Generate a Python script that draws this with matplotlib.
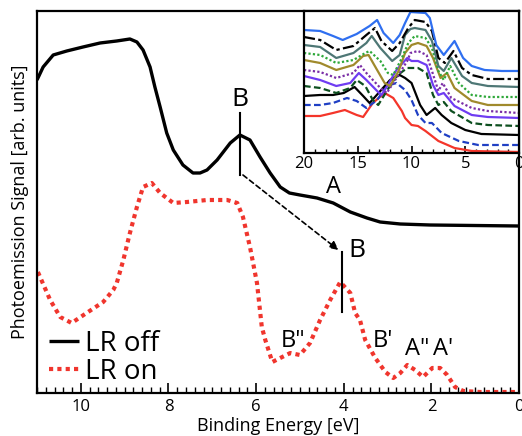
import matplotlib

matplotlib.use("Agg")
import matplotlib.pyplot as plt
from matplotlib.ticker import MultipleLocator

plt.rcParams["font.family"] = ["Open Sans", "DejaVu Sans"]

# main panel: binding energy (eV) vs signal (arb.)
lr_off_e = [11.0, 10.86, 10.63, 10.32, 9.95, 9.56, 9.18, 8.88, 8.72, 8.58, 8.42, 8.31, 8.19,
            8.04, 7.89, 7.67, 7.44, 7.28, 7.12, 6.89, 6.59, 6.37, 6.14, 5.91, 5.68, 5.45,
            5.24, 5.0, 4.61, 4.24, 3.85, 3.47, 3.17, 2.71, 2.03, 0.0]
lr_off_y = [313, 326, 338, 342, 346, 350, 352, 354, 351, 343, 326, 306, 286,
            260, 243, 228, 220, 220, 223, 233, 250, 258, 253, 236, 220, 206,
            200, 198, 195, 190, 181, 175, 171, 169, 168, 167]

lr_on_e = [10.98, 10.70, 10.47, 10.21, 9.87, 9.49, 9.26, 9.18, 9.03, 8.88, 8.72, 8.58, 8.38,
           8.19, 7.89, 7.58, 7.12, 6.66, 6.43, 6.30, 6.14, 5.98, 5.87, 5.79, 5.63, 5.45,
           5.22, 5.0, 4.77, 4.54, 4.31, 4.08, 3.85, 3.74, 3.63, 3.51, 3.28, 3.05, 2.87,
           2.71, 2.55, 2.37, 2.19, 1.98, 1.80, 1.64, 1.46, 1.27, 0.89, 0.0]
lr_on_y = [121, 93, 76, 70, 80, 91, 103, 110, 133, 160, 186, 206, 210,
           200, 190, 191, 193, 193, 190, 176, 146, 110, 66, 53, 31, 35,
           40, 38, 50, 73, 93, 111, 100, 80, 73, 53, 35, 21, 15,
           20, 28, 23, 16, 25, 25, 18, 6, 2, 1, 1]

# inset: 11 stacked spectra, bottom to top
inset = [
    ([20, 18.5, 17.3, 16.2, 15.1, 14.5, 13.6, 12.5, 11.7, 10.9, 10.6, 10.0, 9.4, 8.7, 7.5, 6.0, 4.4, 0],
     [37, 37, 40, 43, 38, 36, 50, 60, 55, 42, 35, 28, 27, 22, 12, 5, 2, 1],
     "#f4352a", "-"),
    ([20, 18.5, 17.3, 16.0, 15.1, 14.2, 13.2, 12.3, 11.4, 10.6, 10.0, 9.4, 8.7, 8.1, 7.2, 5.6, 3.8, 0],
     [48, 48, 50, 55, 52, 45, 53, 67, 70, 63, 53, 38, 30, 30, 20, 12, 8, 8],
     "#1f3fc4", (0, (3, 1.5))),
    ([20, 18.5, 17.3, 16.3, 15.3, 14.5, 13.9, 12.9, 12.0, 11.1, 10.6, 10.0, 9.2, 8.6, 7.8, 7.2, 6.3, 5.0, 3.5, 0],
     [57, 58, 58, 60, 66, 57, 50, 62, 73, 78, 75, 70, 48, 38, 45, 38, 30, 23, 19, 18],
     "black", "-"),
    ([20, 18.5, 17.0, 15.7, 15.1, 14.3, 13.6, 13.1, 12.3, 11.4, 10.4, 9.4, 8.6, 8.0, 7.5, 7.0, 6.3, 4.4, 2.9, 0],
     [67, 65, 60, 65, 73, 67, 53, 48, 62, 77, 85, 85, 80, 58, 48, 51, 42, 30, 28, 27],
     "#0d4f1f", (0, (3, 1.5))),
    ([20, 18.5, 17.0, 15.7, 14.9, 14.2, 13.2, 12.8, 12.2, 11.4, 10.4, 10.0, 9.4, 8.6, 8.0, 7.5, 7.0, 6.0, 4.4, 2.9, 0],
     [77, 73, 67, 70, 80, 73, 62, 58, 68, 83, 95, 92, 92, 88, 68, 58, 60, 47, 38, 36, 35],
     "#6f3cf2", "-"),
    ([20, 18.5, 17.0, 15.4, 14.8, 14.2, 12.9, 12.3, 11.4, 10.4, 10.1, 9.4, 8.6, 8.1, 7.5, 7.1, 6.3, 4.4, 2.9, 0],
     [83, 81, 75, 80, 88, 80, 65, 60, 75, 92, 100, 102, 98, 82, 62, 70, 55, 45, 42, 40],
     "#7a2ea6", (0, (1, 1))),
    ([20, 18.5, 17.0, 15.4, 14.5, 14.0, 13.2, 12.5, 12.0, 11.2, 10.6, 10.0, 9.4, 8.6, 8.0, 7.3, 6.7, 6.0, 4.4, 2.9, 0],
     [93, 90, 83, 88, 97, 98, 83, 70, 67, 82, 100, 108, 110, 107, 95, 75, 80, 65, 52, 48, 48],
     "#a08a2c", "-"),
    ([20, 18.5, 17.0, 15.4, 14.3, 13.9, 12.9, 12.2, 11.7, 10.9, 10.3, 9.7, 8.7, 8.1, 7.5, 7.0, 6.4, 5.6, 4.4, 2.9, 0],
     [100, 98, 90, 93, 100, 102, 92, 80, 78, 95, 110, 117, 115, 105, 82, 73, 87, 70, 58, 56, 56],
     "#2fa83a", (0, (1, 1))),
    ([20, 18.5, 17.0, 15.4, 14.2, 13.7, 12.9, 11.8, 11.1, 10.6, 10.1, 9.7, 8.7, 8.1, 7.5, 7.0, 6.3, 5.3, 4.4, 2.9, 0],
     [108, 106, 95, 100, 110, 117, 105, 92, 98, 118, 124, 125, 123, 112, 87, 82, 95, 77, 70, 67, 66],
     "#4e7775", "-"),
    ([20, 18.5, 17.0, 15.4, 14.2, 13.4, 12.8, 11.8, 11.1, 10.3, 9.7, 8.7, 8.1, 7.5, 6.9, 6.1, 5.3, 4.4, 2.9, 0],
     [116, 113, 103, 107, 118, 125, 112, 102, 110, 125, 133, 131, 122, 95, 90, 102, 85, 78, 74, 74],
     "black", (0, (5, 1.5, 1.5, 1.5))),
    ([20, 18.5, 17.3, 16.4, 15.1, 13.9, 13.2, 12.6, 11.7, 11.1, 10.6, 10.1, 8.7, 8.3, 7.7, 7.0, 6.0, 5.2, 4.4, 3.2, 1.6, 0],
     [123, 122, 117, 113, 119, 127, 133, 120, 110, 118, 130, 141, 140, 135, 108, 98, 112, 95, 87, 83, 82, 82],
     "#2f6ff0", "-"),
]

fig = plt.figure(figsize=(5.22, 4.36), dpi=100)
ax = fig.add_axes([0.0709, 0.0986, 0.9234, 0.8762])

ax.plot(lr_off_e, lr_off_y, color="black", lw=2.4, label="LR off", solid_capstyle="butt")
ax.plot(lr_on_e, lr_on_y, color="#f0352d", lw=3.0, ls=(0, (1, 1)), label="LR on")

ax.set_xlim(11, 0)
ax.set_ylim(0, 382)
ax.set_yticks([])
ax.xaxis.set_major_locator(MultipleLocator(2))
ax.xaxis.set_minor_locator(MultipleLocator(0.2))
ax.tick_params(axis="x", which="major", direction="in", length=7, width=1.2, labelsize=12, pad=4)
ax.tick_params(axis="x", which="minor", direction="in", length=4, width=1.0)
for sp in ax.spines.values():
    sp.set_linewidth(1.6)
ax.set_xlabel("Binding Energy [eV]", fontsize=13, labelpad=2)
ax.set_ylabel("Photoemission Signal [arb. units]", fontsize=13, labelpad=6)

# peak markers and shift arrow
ax.plot([6.37, 6.37], [218, 280], color="black", lw=1.5)
ax.plot([4.04, 4.04], [81, 141], color="black", lw=1.5)
ax.annotate("", xy=(4.12, 143), xytext=(6.3, 218),
            arrowprops=dict(arrowstyle="-|>,head_length=0.5,head_width=0.25", color="black",
                            lw=1.2, ls=(0, (3, 2)), shrinkA=0, shrinkB=0))
ax.text(6.37, 281, "B", fontsize=19, ha="center", va="bottom")
ax.text(3.9, 143, "B", fontsize=19, ha="left", va="center")
ax.text(4.24, 206, "A", fontsize=17, ha="center", va="center")
ax.text(5.16, 52, "B\"", fontsize=17, ha="center", va="center")
ax.text(3.1, 52, "B'", fontsize=17, ha="center", va="center")
ax.text(2.32, 44, "A\"", fontsize=17, ha="center", va="center")
ax.text(1.73, 44, "A'", fontsize=17, ha="center", va="center")

ax.legend(loc="lower left", bbox_to_anchor=(-0.01, -0.025), frameon=False, fontsize=20,
          handlelength=1.1, handletextpad=0.2, labelspacing=0.0, borderaxespad=0.2)

# inset
ins = fig.add_axes([0.5824, 0.6491, 0.4119, 0.3257])
for e, h, col, ls in inset:
    ins.plot(e, h, color=col, ls=ls, lw=1.6)
ins.set_xlim(20, 0)
ins.set_ylim(0, 142)
ins.set_yticks([])
ins.xaxis.set_major_locator(MultipleLocator(5))
ins.xaxis.set_minor_locator(MultipleLocator(1))
ins.tick_params(axis="x", which="major", direction="in", length=5, width=1.2, labelsize=12, pad=2)
ins.tick_params(axis="x", which="minor", direction="in", length=3, width=1.0)
for sp in ins.spines.values():
    sp.set_linewidth(1.6)

fig.savefig("out.png", dpi=100)
